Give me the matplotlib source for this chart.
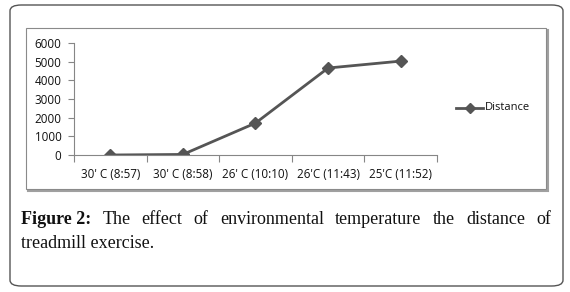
import matplotlib
matplotlib.use("Agg")
import matplotlib.pyplot as plt
from matplotlib.patches import FancyBboxPatch, Rectangle
from matplotlib.lines import Line2D

categories = ["30' C (8:57)", "30' C (8:58)", "26' C (10:10)", "26'C (11:43)", "25'C (11:52)"]
distance = [0, 30, 1710, 4660, 5030]
yticks = [0, 1000, 2000, 3000, 4000, 5000, 6000]
series_name = "Distance"

W, H = 570, 292
fig = plt.figure(figsize=(W / 100, H / 100), dpi=100)
fig.patch.set_facecolor("white")

def fx(x): return x / W
def fy(y): return 1 - y / H

# outer rounded box
outer = FancyBboxPatch((fx(10), fy(286)), fx(553), (286 - 5) / H,
                       boxstyle="round,pad=0,rounding_size=0.02",
                       transform=fig.transFigure, fill=False,
                       edgecolor="#555555", linewidth=1.0, zorder=0)
fig.patches.append(outer)

# inner chart box (with shadow)
shadow = Rectangle((fx(27.5), fy(190.5)), (547.5 - 27.5) / W, (190.5 - 29.5) / H,
                   transform=fig.transFigure, fill=False, edgecolor="#a0a0a0", linewidth=1.5, zorder=0)
fig.patches.append(shadow)
inner = Rectangle((fx(26), fy(189)), (546 - 26) / W, (189 - 28) / H,
                  transform=fig.transFigure, facecolor="white", edgecolor="#8a8a8a", linewidth=0.8, zorder=0)
fig.patches.append(inner)

ax = fig.add_axes([fx(74), fy(155), (437 - 74) / W, (155 - 43) / H])
ax.set_zorder(2)
ax.set_facecolor("none")
x = list(range(len(categories)))
ax.plot(x, distance, color="#555555", linewidth=2, marker="D", markersize=6.5,
        markerfacecolor="#555555", markeredgecolor="#555555", label=series_name)
ax.set_xlim(-0.5, len(categories) - 0.5)
ax.set_ylim(0, 6000)
ax.set_yticks(yticks)
ax.set_yticklabels([str(v) for v in yticks])
ax.set_xticks(x)
ax.set_xticklabels(categories)
ax.set_xticks([i - 0.5 for i in range(len(categories) + 1)], minor=True)
for s in ["top", "right"]:
    ax.spines[s].set_visible(False)
ax.spines["left"].set_color("#868686")
ax.spines["bottom"].set_color("#868686")
ax.spines["left"].set_linewidth(0.8)
ax.spines["bottom"].set_linewidth(0.8)
ax.tick_params(axis="x", which="major", length=0, pad=9, labelsize=8.4, labelcolor="#111111")
ax.tick_params(axis="x", which="minor", length=5, color="#868686", width=0.8)
ax.tick_params(axis="y", length=4, color="#868686", width=0.8, pad=5, labelsize=8.4, labelcolor="#111111")
for lab in ax.get_xticklabels() + ax.get_yticklabels():
    lab.set_fontfamily("Open Sans")

# legend
fig.add_artist(Line2D([fx(456), fx(483)], [fy(108), fy(108)], transform=fig.transFigure,
                      color="#555555", linewidth=2, zorder=3))
fig.add_artist(Line2D([fx(469.5)], [fy(108)], transform=fig.transFigure,
                      color="#555555", marker="D", markersize=5, linestyle="none", zorder=3))
fig.text(fx(485), fy(108), series_name, fontsize=8, family="Open Sans",
         va="center", ha="left", color="#111111", zorder=3)

# caption, justified first line
renderer = fig.canvas.get_renderer()
cap_font = dict(fontsize=13, family="Liberation Serif", color="#111111")
words = [("Figure 2:", "bold"), ("The", "normal"), ("effect", "normal"), ("of", "normal"),
         ("environmental", "normal"), ("temperature", "normal"), ("the", "normal"),
         ("distance", "normal"), ("of", "normal")]
x_left, x_right = 21, 551
y1 = 220
texts = []
widths = []
for w, wt in words:
    t = fig.text(0, fy(y1), w, fontweight=wt, va="center", ha="left", **cap_font)
    bb = t.get_window_extent(renderer)
    texts.append(t)
    widths.append(bb.width)
gap = (x_right - x_left - sum(widths)) / (len(words) - 1)
cx = x_left
for t, wd in zip(texts, widths):
    t.set_x(fx(cx))
    cx += wd + gap
fig.text(fx(x_left), fy(243), "treadmill exercise.", va="center", ha="left", **cap_font)

fig.savefig("out.png", dpi=100, facecolor="white")
